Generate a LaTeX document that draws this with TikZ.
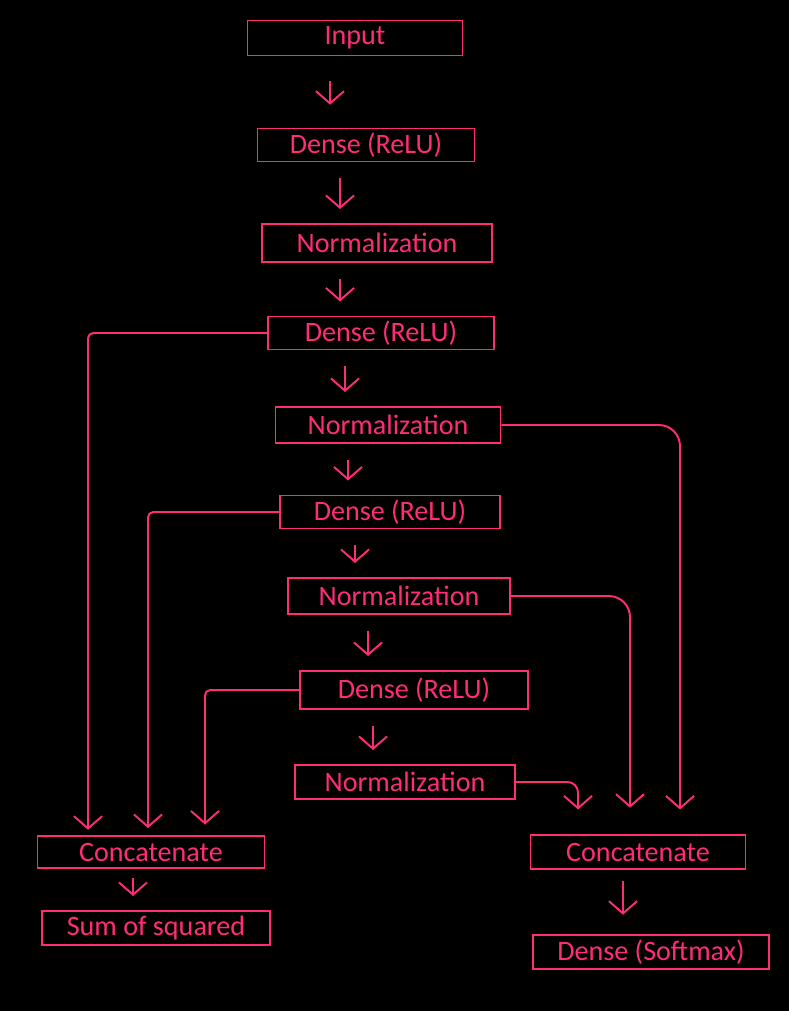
\documentclass[tikz,border=0pt]{standalone}
\usepackage{fontspec}
\setmainfont{Carlito}
\usetikzlibrary{arrows.meta}
\definecolor{pinkline}{HTML}{FF2D78}
\tikzset{
  box/.style={draw=pinkline, line width=1.1pt, text=pinkline, inner sep=0pt,
    minimum height=0.7cm, font=\fontsize{16}{19}\selectfont},
  arr/.style={draw=pinkline, line width=1.1pt,
    -{Straight Barb[length=7pt,width=16pt,line width=1.1pt]}},
  vfeed/.style={arr, shorten <=9pt, shorten >=8pt},
}
\begin{document}
\begin{tikzpicture}[x=0.02cm, y=-0.02cm]
\useasboundingbox[fill=black] (0,0) rectangle (789,1011);

\node[box, minimum width=4.3cm,  minimum height=0.7cm]  (in) at (355,38)  {Input};
\node[box, minimum width=4.34cm, minimum height=0.66cm] (d1) at (366,145) {Dense (ReLU)};
\node[box, minimum width=4.6cm,  minimum height=0.76cm] (n1) at (377,243) {Normalization};
\node[box, minimum width=4.52cm, minimum height=0.66cm] (d2) at (381,333) {Dense (ReLU)};
\node[box, minimum width=4.5cm,  minimum height=0.72cm] (n2) at (388,425) {Normalization};
\node[box, minimum width=4.4cm,  minimum height=0.66cm] (d3) at (390,512) {Dense (ReLU)};
\node[box, minimum width=4.44cm, minimum height=0.72cm] (n3) at (399,596) {Normalization};
\node[box, minimum width=4.56cm, minimum height=0.76cm] (d4) at (414,690) {Dense (ReLU)};
\node[box, minimum width=4.4cm,  minimum height=0.68cm] (n4) at (405,782) {Normalization};
\node[box, minimum width=4.54cm, minimum height=0.64cm] (c1) at (151,852) {Concatenate};
\node[box, minimum width=4.56cm, minimum height=0.68cm] (s1) at (156,928) {Sum of squared};
\node[box, minimum width=4.3cm,  minimum height=0.68cm] (c2) at (638,852) {Concatenate};
\node[box, minimum width=4.72cm, minimum height=0.68cm] (sm) at (651,952) {Dense (Softmax)};

% main chain
\draw[arr, shorten <=14pt, shorten >=13pt] ([xshift=-0.5cm]in.south) coordinate (t1) -- (t1 |- d1.north);
\draw[vfeed] ([xshift=-0.52cm]d1.south) coordinate (t2) -- (t2 |- n1.north);
\draw[vfeed] ([xshift=-0.74cm]n1.south) coordinate (t3) -- (t3 |- d2.north);
\draw[vfeed] ([xshift=-0.72cm]d2.south) coordinate (t4) -- (t4 |- n2.north);
\draw[vfeed] ([xshift=-0.8cm]n2.south) coordinate (t5) -- (t5 |- d3.north);
\draw[vfeed] ([xshift=-0.7cm]d3.south) coordinate (t6) -- (t6 |- n3.north);
\draw[vfeed] ([xshift=-0.62cm]n3.south) coordinate (t7) -- (t7 |- d4.north);
\draw[vfeed] ([xshift=-0.82cm]d4.south) coordinate (t8) -- (t8 |- n4.north);
\draw[arr, shorten <=5pt, shorten >=8pt] ([xshift=-0.36cm]c1.south) coordinate (t9) -- (t9 |- s1.north);
\draw[arr, shorten <=6pt, shorten >=11pt] ([xshift=-0.3cm]c2.south) coordinate (t10) -- (t10 |- sm.north);

% left skip connections
\draw[arr, rounded corners=3pt, shorten >=3pt] (d2.west) -| ([xshift=-1.26cm]c1.north);
\draw[arr, rounded corners=3pt, shorten >=4pt] (d3.west) -| ([xshift=-0.06cm]c1.north);
\draw[arr, rounded corners=3pt, shorten >=6pt] (d4.west) -| ([xshift=1.08cm]c1.north);

% right skip connections
\draw[arr, rounded corners=12pt, shorten >=14pt] (n2.east) -| ([xshift=0.84cm]c2.north);
\draw[arr, rounded corners=12pt, shorten >=15pt] (n3.east) -| ([xshift=-0.16cm]c2.north);
\draw[arr, rounded corners=6pt, shorten >=14pt] (n4.east) -| ([xshift=-1.2cm]c2.north);
\end{tikzpicture}
\end{document}
